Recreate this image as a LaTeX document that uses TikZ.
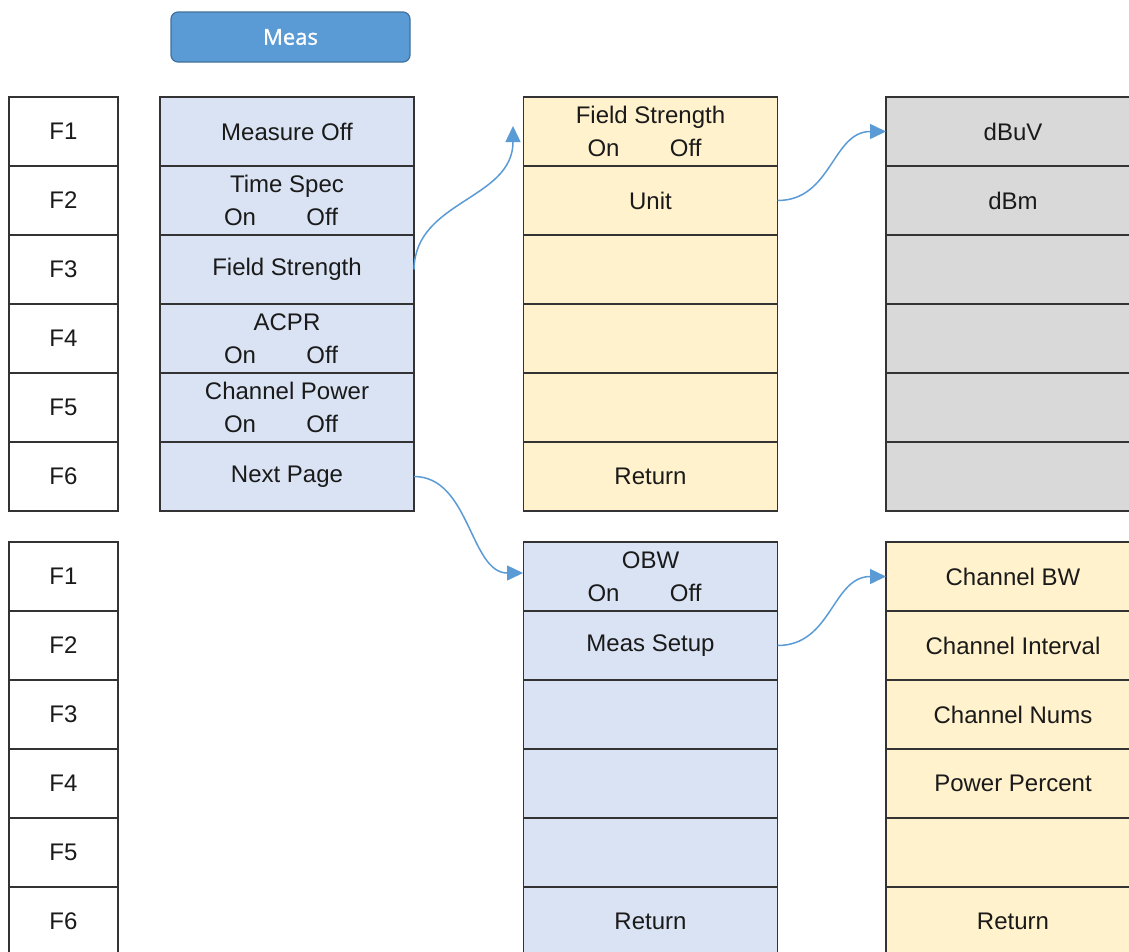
\documentclass[tikz,border=0pt]{standalone}
\usepackage{fontspec}
\setmainfont{Liberation Sans}
\newfontfamily\measfont[FakeBold=1.2]{Open Sans}
\usetikzlibrary{arrows.meta}
\definecolor{bluecell}{HTML}{DAE3F3}
\definecolor{yellowcell}{HTML}{FFF2CC}
\definecolor{graycell}{HTML}{D9D9D9}
\definecolor{btnfill}{HTML}{5B9BD5}
\definecolor{btnedge}{HTML}{41719C}
\definecolor{edgecol}{HTML}{333333}
\definecolor{txtcol}{HTML}{1A1A1A}
\definecolor{arrowcol}{HTML}{5B9BD5}
\newcommand{\onoff}{On\hspace{2.1em}Off\hspace*{0.5em}}
\begin{document}
\begin{tikzpicture}[x=1pt,y=-1pt,
  cell/.style={draw=edgecol, line width=1.5pt, minimum height=69pt, inner sep=0pt, outer sep=0pt,
    text=txtcol, font=\fontsize{24}{33}\selectfont, align=center},
  fkey/.style={cell, fill=white, minimum width=109pt},
  menu/.style={cell, minimum width=254pt},
  link/.style={draw=arrowcol, line width=1.5pt, -{Triangle[length=16pt,width=15pt]}},
  btn/.style={draw=btnedge, line width=1.2pt, fill=btnfill, rounded corners=7pt, minimum width=239pt,
    minimum height=50pt, text=white, font=\measfont\fontsize{22}{26}\selectfont}]
\path[use as bounding box] (0,0) rectangle (1129,951);
\clip (0,0) rectangle (1129,951);
\fill[white] (0,0) rectangle (1129,951);

% Meas button
\node[btn] (meas) at (290.5,37) {Meas};

% F keys, upper
\node[fkey] (fa1) at (63.5,131.5) {F1};
\node[fkey] (fa2) at (63.5,200.5) {F2};
\node[fkey] (fa3) at (63.5,269.5) {F3};
\node[fkey] (fa4) at (63.5,338.5) {F4};
\node[fkey] (fa5) at (63.5,407.5) {F5};
\node[fkey] (fa6) at (63.5,476.5) {F6};
% F keys, lower
\node[fkey] (fb1) at (63.5,576.5) {F1};
\node[fkey] (fb2) at (63.5,645.5) {F2};
\node[fkey] (fb3) at (63.5,714.5) {F3};
\node[fkey] (fb4) at (63.5,783.5) {F4};
\node[fkey] (fb5) at (63.5,852.5) {F5};
\node[fkey] (fb6) at (63.5,921.5) {F6};

% Meas menu
\node[menu, fill=bluecell] (m1) at (287,131.5) {Measure Off};
\node[menu, fill=bluecell] (m2) at (287,200.5) {Time Spec\\\onoff};
\node[menu, fill=bluecell] (m3) at (287,269.5) {Field Strength};
\node[menu, fill=bluecell] (m4) at (287,338.5) {ACPR\\\onoff};
\node[menu, fill=bluecell] (m5) at (287,407.5) {Channel Power\\\onoff};
\node[menu, fill=bluecell] (m6) at (287,476.5) {Next Page};

% Field strength menu
\node[menu, fill=yellowcell] (fs1) at (650.5,131.5) {Field Strength\\\onoff};
\node[menu, fill=yellowcell] (fs2) at (650.5,200.5) {Unit};
\node[menu, fill=yellowcell] (fs3) at (650.5,269.5) {};
\node[menu, fill=yellowcell] (fs4) at (650.5,338.5) {};
\node[menu, fill=yellowcell] (fs5) at (650.5,407.5) {};
\node[menu, fill=yellowcell] (fs6) at (650.5,476.5) {Return};

% Unit menu
\node[menu, fill=graycell] (u1) at (1013,131.5) {dBuV};
\node[menu, fill=graycell] (u2) at (1013,200.5) {dBm};
\node[menu, fill=graycell] (u3) at (1013,269.5) {};
\node[menu, fill=graycell] (u4) at (1013,338.5) {};
\node[menu, fill=graycell] (u5) at (1013,407.5) {};
\node[menu, fill=graycell] (u6) at (1013,476.5) {};

% Page 2 menu
\node[menu, fill=bluecell] (p1) at (650.5,576.5) {OBW\\\onoff};
\node[menu, fill=bluecell] (p2) at (650.5,645.5) {Meas Setup};
\node[menu, fill=bluecell] (p3) at (650.5,714.5) {};
\node[menu, fill=bluecell] (p4) at (650.5,783.5) {};
\node[menu, fill=bluecell] (p5) at (650.5,852.5) {};
\node[menu, fill=bluecell] (p6) at (650.5,921.5) {Return};

% Meas setup menu
\node[menu, fill=yellowcell] (s1) at (1013,576.5) {Channel BW};
\node[menu, fill=yellowcell] (s2) at (1013,645.5) {Channel Interval};
\node[menu, fill=yellowcell] (s3) at (1013,714.5) {Channel Nums};
\node[menu, fill=yellowcell] (s4) at (1013,783.5) {Power Percent};
\node[menu, fill=yellowcell] (s5) at (1013,852.5) {};
\node[menu, fill=yellowcell] (s6) at (1013,921.5) {Return};

% connectors
\coordinate (fsend) at (513,126);
\coordinate (pgend) at (523,573);
\draw[link] (m3.east) .. controls (415,200) and (513,200) .. (fsend);
\draw[link] (fs2.east) .. controls (832,200.5) and (832,131.5) .. (u1.west);
\draw[link] (m6.east) .. controls (470,476.5) and (470,573) .. (pgend);
\draw[link] (p2.east) .. controls (832,645.5) and (832,576.5) .. (s1.west);
\end{tikzpicture}
\end{document}
